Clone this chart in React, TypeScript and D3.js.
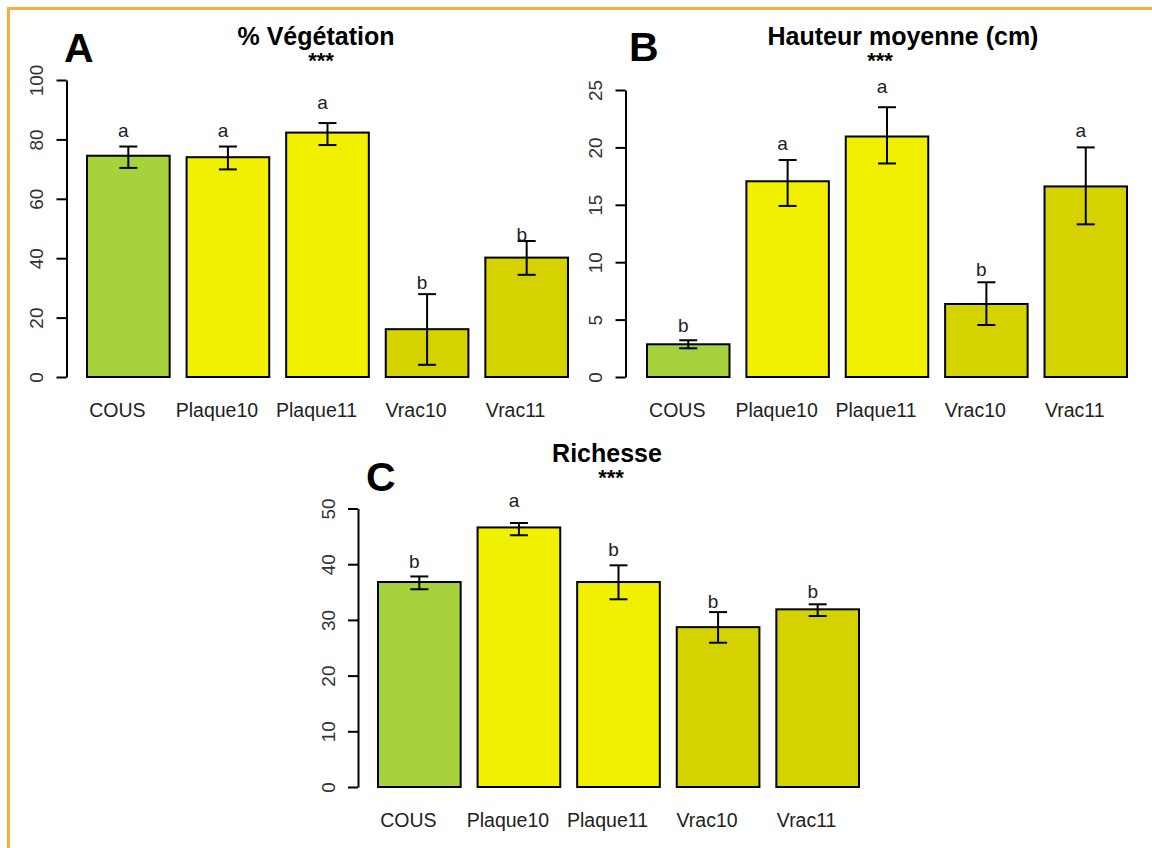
import React, { useEffect, useRef } from 'react';
import * as d3 from 'd3';

// ---- data
const categories = ['COUS', 'Plaque10', 'Plaque11', 'Vrac10', 'Vrac11'];
const barColors = ['#a6d33c', '#f0f000', '#f0f000', '#d4d300', '#d4d300'];

const vegMean = [74.5, 74.0, 82.3, 16.1, 40.2];
const vegLow = [70.4, 69.9, 78.1, 4.1, 34.4];
const vegHigh = [77.6, 77.6, 85.5, 27.9, 45.8];
const vegLetters = ['a', 'a', 'a', 'b', 'b'];
const vegLetterAt = [80.9, 80.9, 90.3, 29.7, 45.9];
const vegTicks = [0, 20, 40, 60, 80, 100];

const hautMean = [2.85, 17.05, 20.95, 6.36, 16.6];
const hautLow = [2.5, 14.9, 18.6, 4.53, 13.3];
const hautHigh = [3.2, 18.9, 23.5, 8.25, 20.0];
const hautLetters = ['b', 'a', 'a', 'b', 'a'];
const hautLetterAt = [3.9, 19.8, 24.7, 8.8, 20.9];
const hautTicks = [0, 5, 10, 15, 20, 25];

const richMean = [36.8, 46.6, 36.8, 28.7, 31.9];
const richLow = [35.5, 45.2, 33.7, 25.9, 30.7];
const richHigh = [37.8, 47.4, 39.8, 31.4, 32.8];
const richLetters = ['b', 'a', 'b', 'b', 'b'];
const richLetterAt = [39.3, 50.2, 41.4, 32.1, 33.9];
const richTicks = [0, 10, 20, 30, 40, 50];

const FONT = '"Liberation Sans", Arial, sans-serif';

export default function App() {
    const svgRef = useRef<SVGSVGElement>(null);

    useEffect(() => {
        const svg = d3.select(svgRef.current);
        svg.selectAll('*').remove();

        // orange frame (only top and left edges are in view)
        svg.append('line').attr('x1', 8.5).attr('x2', 1152).attr('y1', 8.5).attr('y2', 8.5)
            .attr('stroke', '#fbad3a').attr('stroke-width', 3);
        svg.append('line').attr('x1', 8.5).attr('x2', 8.5).attr('y1', 7).attr('y2', 848)
            .attr('stroke', '#fbad3a').attr('stroke-width', 3);

        const panels = [
            {
                tag: 'A', title: '% Végétation', mean: vegMean, low: vegLow, high: vegHigh,
                letters: vegLetters, letterAt: vegLetterAt, ticks: vegTicks,
                xr: [87, 568], axisX: 66.5, yr: [377, 80],
                tagX: 64, tagY: 62, titleX: 316, titleY: 45, starX: 321, starY: 68
            },
            {
                tag: 'B', title: 'Hauteur moyenne (cm)', mean: hautMean, low: hautLow, high: hautHigh,
                letters: hautLetters, letterAt: hautLetterAt, ticks: hautTicks,
                xr: [647, 1127], axisX: 625.5, yr: [377, 90],
                tagX: 629, tagY: 61, titleX: 903, titleY: 45, starX: 880, starY: 68
            },
            {
                tag: 'C', title: 'Richesse', mean: richMean, low: richLow, high: richHigh,
                letters: richLetters, letterAt: richLetterAt, ticks: richTicks,
                xr: [378, 859], axisX: 358, yr: [787, 508.5],
                tagX: 366, tagY: 491, titleX: 607, titleY: 462, starX: 611, starY: 485
            }
        ];

        panels.forEach(p => {
            const g = svg.append('g').style('font-family', FONT);

            const x = d3.scaleBand()
                .domain(categories)
                .range(p.xr as [number, number])
                .paddingInner(0.17)
                .paddingOuter(0);
            const y = d3.scaleLinear()
                .domain([0, d3.max(p.ticks) as number])
                .range(p.yr as [number, number]);

            // y axis
            const ax = g.append('g')
                .attr('transform', `translate(${p.axisX},0)`)
                .call(d3.axisLeft(y).tickValues(p.ticks).tickSize(10).tickSizeOuter(0).tickPadding(0));
            ax.select('.domain').attr('stroke', '#000').attr('stroke-width', 2);
            ax.selectAll('.tick line').attr('stroke', '#000').attr('stroke-width', 2);
            ax.selectAll('.tick text')
                .attr('transform', 'rotate(-90)')
                .attr('x', 0)
                .attr('y', -30)
                .attr('dy', '0.35em')
                .attr('text-anchor', 'middle')
                .attr('fill', '#333')
                .style('font-size', '19px')
                .style('font-family', FONT);

            // bars
            g.selectAll('.bar')
                .data(categories)
                .enter()
                .append('rect')
                .attr('x', d => x(d) as number)
                .attr('y', (d, i) => y(p.mean[i]))
                .attr('width', x.bandwidth())
                .attr('height', (d, i) => y(0) - y(p.mean[i]))
                .attr('fill', (d, i) => barColors[i])
                .attr('stroke', '#000')
                .attr('stroke-width', 2);

            // error bars, group letters, category names
            const cx = (d: string) => (x(d) as number) + x.bandwidth() / 2;
            categories.forEach((c, i) => {
                const e = g.append('g').attr('stroke', '#000').attr('stroke-width', 2);
                e.append('line').attr('x1', cx(c)).attr('x2', cx(c))
                    .attr('y1', y(p.low[i])).attr('y2', y(p.high[i]));
                [p.low[i], p.high[i]].forEach(v => {
                    e.append('line').attr('x1', cx(c) - 9).attr('x2', cx(c) + 9)
                        .attr('y1', y(v)).attr('y2', y(v));
                });
                g.append('text')
                    .attr('x', cx(c) - 5)
                    .attr('y', y(p.letterAt[i]))
                    .attr('text-anchor', 'middle')
                    .attr('fill', '#222')
                    .style('font-size', '19px')
                    .text(p.letters[i]);
                g.append('text')
                    .attr('x', cx(c) - 11)
                    .attr('y', y(0) + 40)
                    .attr('text-anchor', 'middle')
                    .attr('fill', '#222')
                    .style('font-size', '19.5px')
                    .text(c);
            });

            // titles
            g.append('text')
                .attr('x', p.titleX).attr('y', p.titleY)
                .attr('text-anchor', 'middle')
                .style('font-size', '25px').style('font-weight', 'bold')
                .text(p.title);
            g.append('text')
                .attr('x', p.starX).attr('y', p.starY)
                .attr('text-anchor', 'middle')
                .style('font-size', '22px').style('font-weight', 'bold')
                .text('***');
            g.append('text')
                .attr('x', p.tagX).attr('y', p.tagY)
                .style('font-size', '41px').style('font-weight', 'bold')
                .text(p.tag);
        });
    }, []);

    return (
        <svg
            ref={svgRef}
            width={1152}
            height={848}
            style={{ position: 'absolute', left: 0, top: 0, background: '#fff' }}
        />
    );
}
